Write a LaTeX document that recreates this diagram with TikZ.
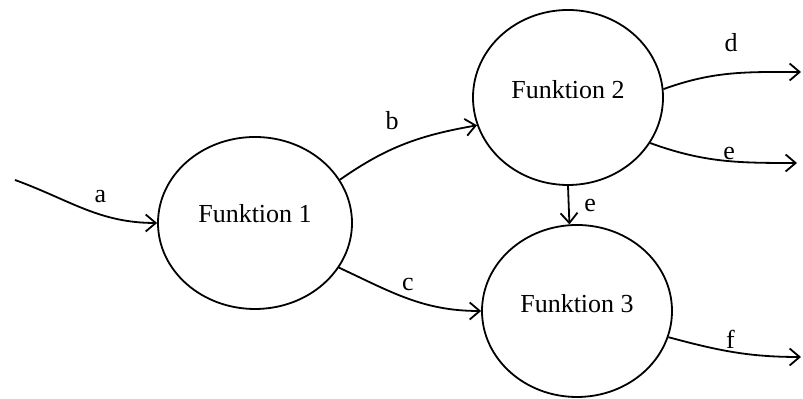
\documentclass[tikz,border=0pt]{standalone}
\usepackage{fontspec}
\setmainfont{Liberation Serif}
\usetikzlibrary{shapes.geometric,arrows.meta,positioning}

\begin{document}
\begin{tikzpicture}[
  x=0.5pt, y=0.5pt,
  func/.style={ellipse, draw, line width=0.9pt, minimum width=95pt, minimum height=86pt, inner sep=0pt, text depth=8pt, font=\fontsize{13}{15}\selectfont},
  arrow/.style={-{Straight Barb[length=5pt,width=8.5pt]}, line width=0.9pt},
  lbl/.style={font=\fontsize{13}{15}\selectfont}
]
\useasboundingbox (0,0) rectangle (803,399);

\node[func, minimum width=97pt, text depth=10pt] (f1) at (255,176) {Funktion 1};
\node[func, minimum height=87.5pt] (f2) at (568,301.5) {Funktion 2};
\node[func] (f3) at (577,88) {Funktion 3};

\coordinate (ina) at (15,219);
\coordinate (outd) at (801,327);
\coordinate (oute) at (797,236);
\coordinate (outf) at (801,42);

\draw[arrow] (ina) to[out=-20, in=180] node[lbl, pos=0.62, above=2pt] {a} (f1.west);
\draw[arrow] (f1.27) to[out=35, in=190] node[lbl, pos=0.4, above=6pt] {b} (f2.197);
\draw[arrow] (f1.-28) to[out=-25, in=180] node[lbl, pos=0.5, above=0pt] {c} (f3.west);
\draw[arrow] (f2.5) to[out=20, in=180] node[lbl, pos=0.5, above=7pt] {d} (outd);
\draw[arrow] (f2.-29) to[out=-20, in=180] node[lbl, pos=0.55, above=-3pt] {e} (oute);
\draw[arrow] (f2.south) -- node[lbl, right=4pt] {e} (f3.95);
\draw[arrow] (f3.-16) to[out=-15, in=180] node[lbl, pos=0.47, above=-2pt] {f} (outf);
\end{tikzpicture}
\end{document}
